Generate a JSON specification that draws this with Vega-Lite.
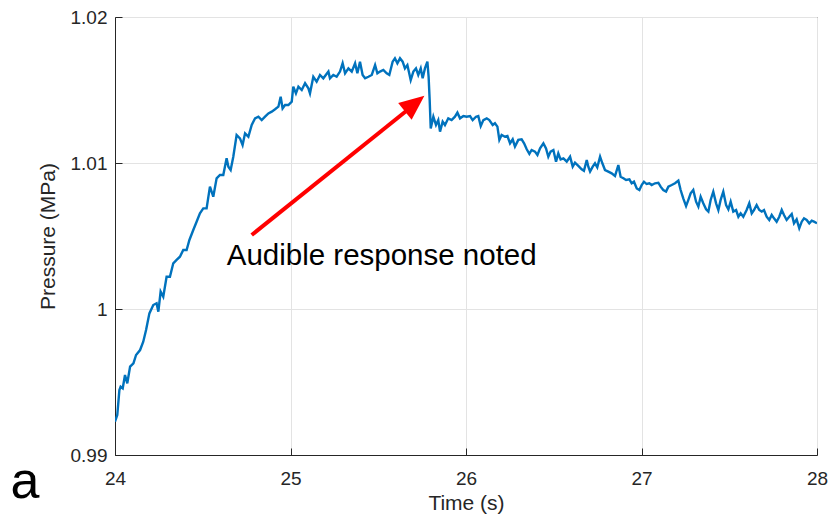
{
  "$schema": "https://vega.github.io/schema/vega-lite/v6.json",
  "width": 702,
  "height": 438,
  "autosize": {"type": "none"},
  "padding": {"left": 115, "top": 17, "right": 15, "bottom": 65},
  "background": "white",
  "config": {
    "view": {"stroke": "#262626", "strokeWidth": 1},
    "font": "Liberation Sans",
    "axis": {
      "labelFont": "Liberation Sans",
      "titleFont": "Liberation Sans",
      "labelColor": "#262626",
      "titleColor": "#262626",
      "domainColor": "#262626",
      "tickColor": "#262626",
      "gridColor": "#e3e3e3",
      "titleFontWeight": "normal",
      "labelFlush": false
    }
  },
  "datasets": {
    "series": [
      {"t": 24.000, "p": 0.99228}, {"t": 24.013, "p": 0.99274}, {"t": 24.025, "p": 0.99445}, {"t": 24.032, "p": 0.99468},
      {"t": 24.044, "p": 0.99457}, {"t": 24.057, "p": 0.99548}, {"t": 24.070, "p": 0.99491}, {"t": 24.086, "p": 0.99605},
      {"t": 24.105, "p": 0.99628}, {"t": 24.120, "p": 0.99685}, {"t": 24.143, "p": 0.99719}, {"t": 24.161, "p": 0.99776},
      {"t": 24.177, "p": 0.99856}, {"t": 24.196, "p": 0.99970}, {"t": 24.218, "p": 1.00027}, {"t": 24.237, "p": 1.00039},
      {"t": 24.247, "p": 0.99982}, {"t": 24.260, "p": 1.00119}, {"t": 24.275, "p": 1.00084}, {"t": 24.294, "p": 1.00221},
      {"t": 24.313, "p": 1.00221}, {"t": 24.332, "p": 1.00313}, {"t": 24.351, "p": 1.00336}, {"t": 24.370, "p": 1.00358},
      {"t": 24.389, "p": 1.00404}, {"t": 24.408, "p": 1.00404}, {"t": 24.424, "p": 1.00473}, {"t": 24.446, "p": 1.00541},
      {"t": 24.465, "p": 1.00598}, {"t": 24.484, "p": 1.00655}, {"t": 24.503, "p": 1.00689}, {"t": 24.522, "p": 1.00689},
      {"t": 24.541, "p": 1.00838}, {"t": 24.560, "p": 1.00769}, {"t": 24.579, "p": 1.00895}, {"t": 24.598, "p": 1.00918},
      {"t": 24.617, "p": 1.00918}, {"t": 24.636, "p": 1.01032}, {"t": 24.646, "p": 1.00975}, {"t": 24.659, "p": 1.00952},
      {"t": 24.674, "p": 1.01043}, {"t": 24.693, "p": 1.01192}, {"t": 24.712, "p": 1.01169}, {"t": 24.727, "p": 1.01123},
      {"t": 24.741, "p": 1.01203}, {"t": 24.760, "p": 1.01180}, {"t": 24.779, "p": 1.01260}, {"t": 24.798, "p": 1.01306},
      {"t": 24.817, "p": 1.01317}, {"t": 24.836, "p": 1.01294}, {"t": 24.855, "p": 1.01317}, {"t": 24.874, "p": 1.01340},
      {"t": 24.893, "p": 1.01352}, {"t": 24.912, "p": 1.01368}, {"t": 24.931, "p": 1.01386}, {"t": 24.944, "p": 1.01454},
      {"t": 24.955, "p": 1.01374}, {"t": 24.969, "p": 1.01397}, {"t": 24.988, "p": 1.01397}, {"t": 25.007, "p": 1.01420},
      {"t": 25.016, "p": 1.01523}, {"t": 25.031, "p": 1.01477}, {"t": 25.045, "p": 1.01523}, {"t": 25.064, "p": 1.01500},
      {"t": 25.083, "p": 1.01546}, {"t": 25.102, "p": 1.01511}, {"t": 25.111, "p": 1.01477}, {"t": 25.130, "p": 1.01591},
      {"t": 25.149, "p": 1.01557}, {"t": 25.168, "p": 1.01603}, {"t": 25.187, "p": 1.01580}, {"t": 25.216, "p": 1.01626},
      {"t": 25.225, "p": 1.01580}, {"t": 25.244, "p": 1.01603}, {"t": 25.263, "p": 1.01591}, {"t": 25.282, "p": 1.01626},
      {"t": 25.297, "p": 1.01683}, {"t": 25.311, "p": 1.01614}, {"t": 25.330, "p": 1.01648}, {"t": 25.349, "p": 1.01626},
      {"t": 25.368, "p": 1.01683}, {"t": 25.381, "p": 1.01614}, {"t": 25.396, "p": 1.01694}, {"t": 25.411, "p": 1.01603},
      {"t": 25.425, "p": 1.01580}, {"t": 25.444, "p": 1.01591}, {"t": 25.463, "p": 1.01603}, {"t": 25.482, "p": 1.01671},
      {"t": 25.495, "p": 1.01614}, {"t": 25.510, "p": 1.01626}, {"t": 25.529, "p": 1.01637}, {"t": 25.548, "p": 1.01614},
      {"t": 25.563, "p": 1.01603}, {"t": 25.582, "p": 1.01694}, {"t": 25.595, "p": 1.01717}, {"t": 25.609, "p": 1.01683},
      {"t": 25.624, "p": 1.01717}, {"t": 25.639, "p": 1.01694}, {"t": 25.652, "p": 1.01648}, {"t": 25.666, "p": 1.01671},
      {"t": 25.685, "p": 1.01568}, {"t": 25.700, "p": 1.01626}, {"t": 25.715, "p": 1.01648}, {"t": 25.728, "p": 1.01603},
      {"t": 25.742, "p": 1.01648}, {"t": 25.753, "p": 1.01580}, {"t": 25.766, "p": 1.01648}, {"t": 25.780, "p": 1.01694},
      {"t": 25.787, "p": 1.01591}, {"t": 25.793, "p": 1.01432}, {"t": 25.799, "p": 1.01237}, {"t": 25.814, "p": 1.01317},
      {"t": 25.829, "p": 1.01260}, {"t": 25.842, "p": 1.01294}, {"t": 25.852, "p": 1.01215}, {"t": 25.867, "p": 1.01283},
      {"t": 25.880, "p": 1.01260}, {"t": 25.899, "p": 1.01306}, {"t": 25.918, "p": 1.01294}, {"t": 25.937, "p": 1.01317},
      {"t": 25.951, "p": 1.01345}, {"t": 25.966, "p": 1.01306}, {"t": 25.985, "p": 1.01322}, {"t": 26.004, "p": 1.01317},
      {"t": 26.023, "p": 1.01322}, {"t": 26.038, "p": 1.01294}, {"t": 26.057, "p": 1.01317}, {"t": 26.070, "p": 1.01322},
      {"t": 26.084, "p": 1.01253}, {"t": 26.099, "p": 1.01294}, {"t": 26.118, "p": 1.01306}, {"t": 26.133, "p": 1.01294},
      {"t": 26.152, "p": 1.01260}, {"t": 26.165, "p": 1.01272}, {"t": 26.179, "p": 1.01249}, {"t": 26.190, "p": 1.01158},
      {"t": 26.203, "p": 1.01192}, {"t": 26.222, "p": 1.01180}, {"t": 26.236, "p": 1.01185}, {"t": 26.251, "p": 1.01135},
      {"t": 26.266, "p": 1.01162}, {"t": 26.279, "p": 1.01112}, {"t": 26.298, "p": 1.01158}, {"t": 26.317, "p": 1.01162},
      {"t": 26.331, "p": 1.01135}, {"t": 26.346, "p": 1.01094}, {"t": 26.361, "p": 1.01062}, {"t": 26.374, "p": 1.01089},
      {"t": 26.393, "p": 1.01078}, {"t": 26.407, "p": 1.01055}, {"t": 26.422, "p": 1.01100}, {"t": 26.441, "p": 1.01135},
      {"t": 26.456, "p": 1.01100}, {"t": 26.469, "p": 1.01043}, {"t": 26.482, "p": 1.01078}, {"t": 26.498, "p": 1.01089},
      {"t": 26.513, "p": 1.01009}, {"t": 26.526, "p": 1.01066}, {"t": 26.539, "p": 1.01025}, {"t": 26.555, "p": 1.01032},
      {"t": 26.574, "p": 1.01009}, {"t": 26.593, "p": 1.01043}, {"t": 26.608, "p": 1.00975}, {"t": 26.621, "p": 1.01002},
      {"t": 26.640, "p": 1.00980}, {"t": 26.659, "p": 1.00957}, {"t": 26.672, "p": 1.00947}, {"t": 26.688, "p": 1.01021},
      {"t": 26.697, "p": 1.00975}, {"t": 26.707, "p": 1.00941}, {"t": 26.722, "p": 1.00975}, {"t": 26.735, "p": 1.00998},
      {"t": 26.748, "p": 1.00970}, {"t": 26.764, "p": 1.01043}, {"t": 26.777, "p": 1.00998}, {"t": 26.792, "p": 1.00952},
      {"t": 26.811, "p": 1.00941}, {"t": 26.830, "p": 1.00929}, {"t": 26.849, "p": 1.00911}, {"t": 26.868, "p": 1.00986},
      {"t": 26.881, "p": 1.00906}, {"t": 26.897, "p": 1.00895}, {"t": 26.912, "p": 1.00884}, {"t": 26.931, "p": 1.00888},
      {"t": 26.944, "p": 1.00861}, {"t": 26.957, "p": 1.00872}, {"t": 26.973, "p": 1.00826}, {"t": 26.988, "p": 1.00815},
      {"t": 27.001, "p": 1.00849}, {"t": 27.014, "p": 1.00872}, {"t": 27.029, "p": 1.00856}, {"t": 27.045, "p": 1.00861},
      {"t": 27.058, "p": 1.00849}, {"t": 27.077, "p": 1.00861}, {"t": 27.096, "p": 1.00865}, {"t": 27.109, "p": 1.00838},
      {"t": 27.124, "p": 1.00815}, {"t": 27.140, "p": 1.00804}, {"t": 27.153, "p": 1.00838}, {"t": 27.172, "p": 1.00849},
      {"t": 27.191, "p": 1.00861}, {"t": 27.210, "p": 1.00879}, {"t": 27.223, "p": 1.00815}, {"t": 27.238, "p": 1.00758},
      {"t": 27.254, "p": 1.00705}, {"t": 27.267, "p": 1.00747}, {"t": 27.280, "p": 1.00792}, {"t": 27.295, "p": 1.00815},
      {"t": 27.311, "p": 1.00735}, {"t": 27.324, "p": 1.00701}, {"t": 27.337, "p": 1.00769}, {"t": 27.352, "p": 1.00724},
      {"t": 27.368, "p": 1.00683}, {"t": 27.381, "p": 1.00667}, {"t": 27.394, "p": 1.00747}, {"t": 27.409, "p": 1.00804},
      {"t": 27.425, "p": 1.00724}, {"t": 27.438, "p": 1.00678}, {"t": 27.451, "p": 1.00747}, {"t": 27.466, "p": 1.00804},
      {"t": 27.482, "p": 1.00712}, {"t": 27.495, "p": 1.00683}, {"t": 27.508, "p": 1.00735}, {"t": 27.523, "p": 1.00667},
      {"t": 27.539, "p": 1.00678}, {"t": 27.552, "p": 1.00632}, {"t": 27.565, "p": 1.00655}, {"t": 27.580, "p": 1.00632},
      {"t": 27.599, "p": 1.00678}, {"t": 27.614, "p": 1.00724}, {"t": 27.628, "p": 1.00655}, {"t": 27.641, "p": 1.00678},
      {"t": 27.656, "p": 1.00712}, {"t": 27.671, "p": 1.00678}, {"t": 27.685, "p": 1.00667}, {"t": 27.698, "p": 1.00678},
      {"t": 27.713, "p": 1.00632}, {"t": 27.728, "p": 1.00610}, {"t": 27.742, "p": 1.00644}, {"t": 27.755, "p": 1.00621},
      {"t": 27.770, "p": 1.00598}, {"t": 27.785, "p": 1.00632}, {"t": 27.799, "p": 1.00678}, {"t": 27.812, "p": 1.00644},
      {"t": 27.827, "p": 1.00610}, {"t": 27.842, "p": 1.00632}, {"t": 27.856, "p": 1.00651}, {"t": 27.869, "p": 1.00587},
      {"t": 27.884, "p": 1.00614}, {"t": 27.899, "p": 1.00553}, {"t": 27.913, "p": 1.00598}, {"t": 27.926, "p": 1.00621},
      {"t": 27.941, "p": 1.00610}, {"t": 27.956, "p": 1.00587}, {"t": 27.970, "p": 1.00605}, {"t": 27.983, "p": 1.00598},
      {"t": 28.000, "p": 1.00587}
    ],
    "arrow": [{"t0": 24.779, "p0": 1.00507, "t1": 25.672, "p1": 1.01368, "tip_t": 25.763, "tip_p": 1.01461}],
    "note": [{"t": 24.6365, "p": 1.00301, "label": "Audible response noted"}],
    "panel": [{"t": 23.487, "p": 0.98706, "label": "a"}]
  },
  "layer": [
    {
      "data": {"name": "series"},
      "mark": {"type": "line", "color": "#0072BD", "strokeWidth": 2.4, "clip": true},
      "encoding": {
        "x": {
          "field": "t", "type": "quantitative",
          "scale": {"domain": [24, 28], "nice": false, "zero": false},
          "axis": {
            "title": "Time (s)", "values": [24, 25, 26, 27, 28], "format": "~g",
            "grid": true, "tickSize": -7, "labelPadding": 21, "labelFontSize": 19,
            "titleFontSize": 21, "titlePadding": 4, "domainWidth": 1
          }
        },
        "y": {
          "field": "p", "type": "quantitative",
          "scale": {"domain": [0.99, 1.02], "nice": false, "zero": false},
          "axis": {
            "title": "Pressure (MPa)", "values": [0.99, 1.0, 1.01, 1.02], "format": "~g",
            "grid": true, "tickSize": -7, "labelPadding": 15, "labelFontSize": 19,
            "titleFontSize": 21, "titlePadding": 12, "domainWidth": 1
          }
        }
      }
    },
    {
      "data": {"name": "arrow"},
      "mark": {"type": "rule", "color": "#ff0000", "strokeWidth": 4},
      "encoding": {
        "x": {"field": "t0", "type": "quantitative"},
        "y": {"field": "p0", "type": "quantitative"},
        "x2": {"field": "t1"},
        "y2": {"field": "p1"}
      }
    },
    {
      "data": {"name": "arrow"},
      "mark": {
        "type": "point", "filled": true, "color": "#ff0000", "opacity": 1,
        "shape": "M0,0L0.43,1L-0.43,1Z", "size": 2500, "angle": 51.25, "strokeWidth": 0
      },
      "encoding": {
        "x": {"field": "tip_t", "type": "quantitative"},
        "y": {"field": "tip_p", "type": "quantitative"}
      }
    },
    {
      "data": {"name": "note"},
      "mark": {"type": "text", "align": "left", "baseline": "alphabetic", "fontSize": 29.5, "font": "Liberation Sans", "color": "#000000"},
      "encoding": {
        "x": {"field": "t", "type": "quantitative"},
        "y": {"field": "p", "type": "quantitative"},
        "text": {"field": "label"}
      }
    },
    {
      "data": {"name": "panel"},
      "mark": {"type": "text", "align": "center", "baseline": "alphabetic", "fontSize": 52, "font": "Liberation Sans", "color": "#000000"},
      "encoding": {
        "x": {"field": "t", "type": "quantitative"},
        "y": {"field": "p", "type": "quantitative"},
        "text": {"field": "label"}
      }
    }
  ]
}
